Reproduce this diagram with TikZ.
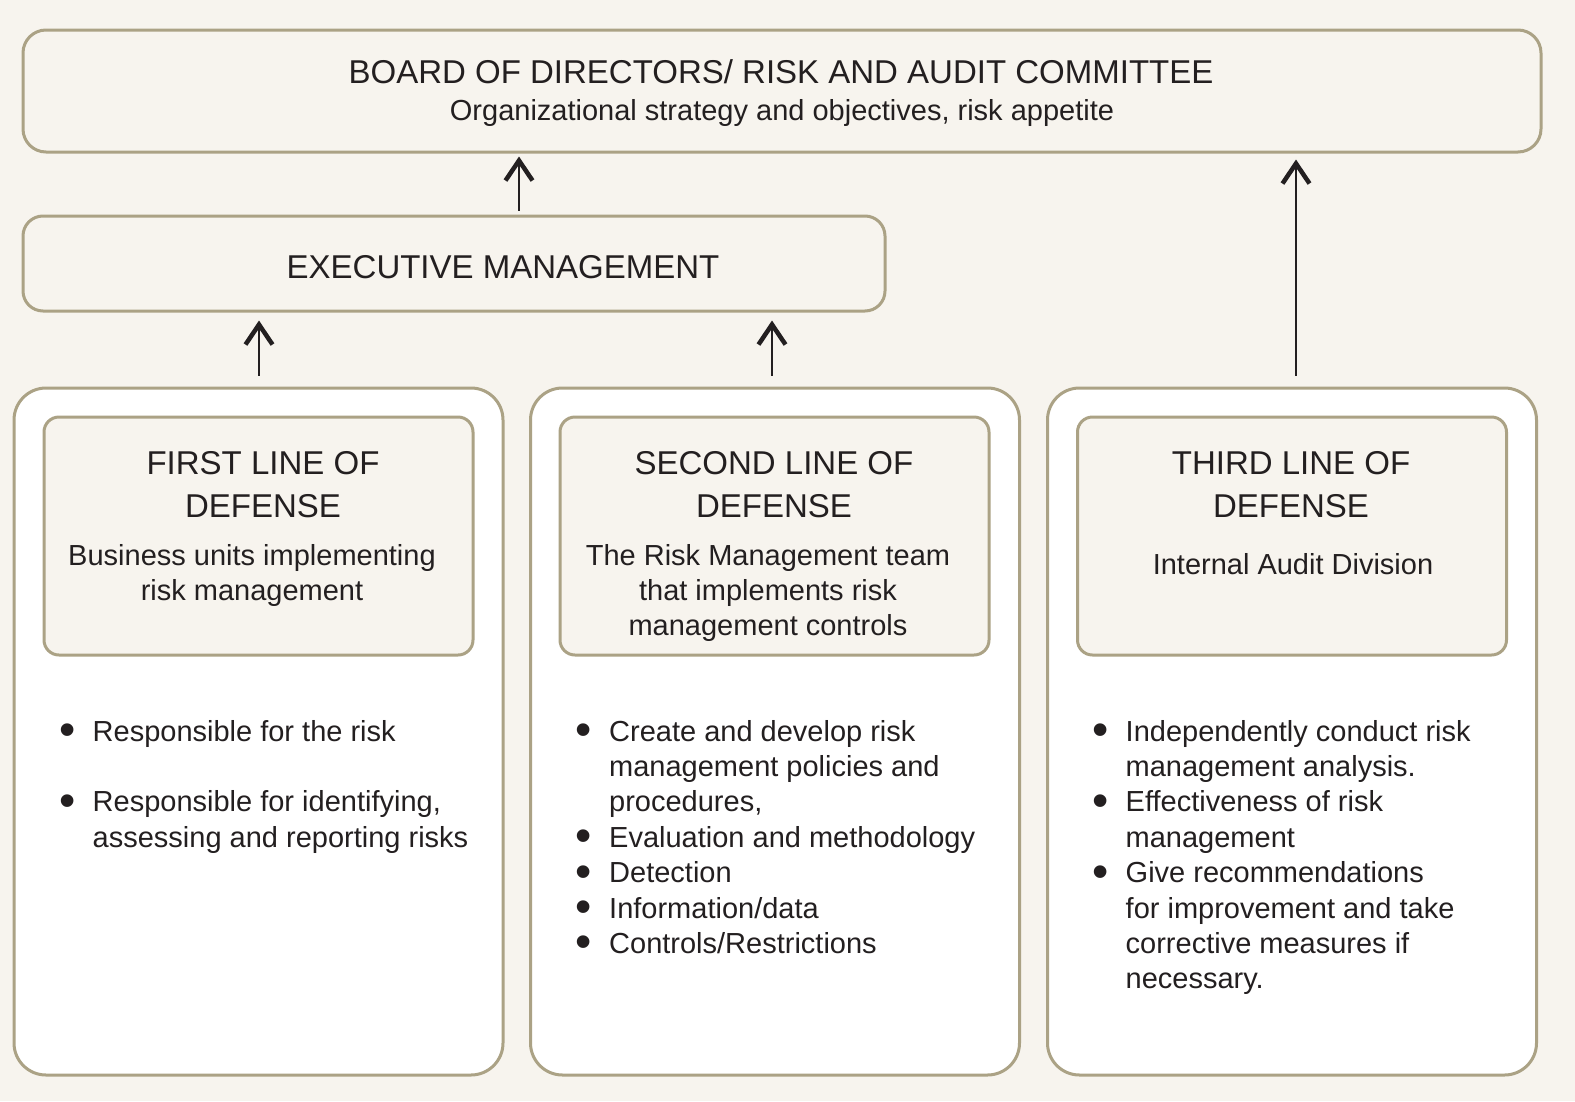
\documentclass[tikz,border=0pt]{standalone}
\usepackage{fontspec}
\setmainfont{Liberation Sans}
\usetikzlibrary{arrows.meta}
\definecolor{bgc}{HTML}{F7F4EE}
\definecolor{bdc}{HTML}{ABA285}
\definecolor{txc}{HTML}{231F20}
\newcommand{\hfont}{\fontsize{33}{43.5}\selectfont}
\newcommand{\bfontx}{\fontsize{29}{35.4}\selectfont}
\newcommand{\stk}[1]{\begin{tabular}[t]{@{}c@{}}#1\end{tabular}}
\newcommand{\blt}{\makebox[51pt][c]{\smash{\raisebox{-4.5pt}{\scalebox{1.6}{\textbullet}}}}}
\newcommand{\lst}[1]{\begin{tabular}[t]{@{}l@{}l@{}}#1\end{tabular}}
\begin{document}
\begin{tikzpicture}[x=1pt,y=-1pt,
  box/.style={draw=bdc, line width=3pt, fill=bgc, inner sep=0pt},
  panel/.style={draw=bdc, line width=3pt, fill=white, inner sep=0pt, rounded corners=32pt, minimum width=489pt, minimum height=687pt},
  inbox/.style={box, rounded corners=15pt, minimum width=429pt, minimum height=238pt},
  txt/.style={inner sep=0pt, text=txc},
  htxt/.style={txt, font=\hfont, anchor=base},
  btxt/.style={txt, font=\bfontx, anchor=base},
  ltxt/.style={txt, font=\bfontx, anchor=base west},
  arr/.style={draw=txc, line width=2.3pt, -{Straight Barb[length=20pt,width=27pt,line width=4.5pt 0]}}
]
\fill[bgc] (0,0) rectangle (1575,1101);
\useasboundingbox (0,0) rectangle (1575,1101);

% top boxes
\node[box, rounded corners=23pt, minimum width=1518pt, minimum height=122pt] (board) at (782,91) {};
\node[htxt] (boardt) at (781,83) {BOARD OF DIRECTORS/ RISK AND AUDIT COMMITTEE};
\node[btxt] (boards) at (782,120) {Organizational strategy and objectives, risk appetite};

\node[box, rounded corners=20pt, minimum width=862pt, minimum height=95pt] (exec) at (454,263.5) {};
\node[htxt] (exect) at (503,278) {EXECUTIVE MANAGEMENT};

% panels
\node[panel] (p1) at (258.5,731.5) {};
\node[panel] (p2) at (775,731.5) {};
\node[panel] (p3) at (1292,731.5) {};

\node[inbox] (i1) at (258.5,536) {};
\node[inbox] (i2) at (774.5,536) {};
\node[inbox] (i3) at (1292,536) {};

\node[htxt] (h1) at (263,474) {\stk{FIRST LINE OF\\DEFENSE}};
\node[htxt] (h2) at (774,474) {\stk{SECOND LINE OF\\DEFENSE}};
\node[htxt] (h3) at (1291,474) {\stk{THIRD LINE OF\\DEFENSE}};

\node[btxt] (b1) at (252,565) {\stk{Business units implementing\\risk management}};
\node[btxt] (b2) at (768,565) {\stk{The Risk Management team\\that implements risk\\management controls}};
\node[btxt] (b3) at (1293,574) {Internal Audit Division};

\node[ltxt] (l1) at (41.5,741) {\lst{\blt & Responsible for the risk\\ & \\ \blt & Responsible for identifying,\\ & assessing and reporting risks}};
\node[ltxt] (l2) at (558,741) {\lst{\blt & Create and develop risk\\ & management policies and\\ & procedures,\\ \blt & Evaluation and methodology\\ \blt & Detection\\ \blt & Information/data\\ \blt & Controls/Restrictions}};
\node[ltxt] (l3) at (1074.5,741) {\lst{\blt & Independently conduct risk\\ & management analysis.\\ \blt & Effectiveness of risk\\ & management\\ \blt & Give recommendations\\ & for improvement and take\\ & corrective measures if\\ & necessary.}};

% arrows
\coordinate (ax0) at (519,0);
\coordinate (ax1) at (259,0);
\coordinate (ax2) at (772,0);
\coordinate (ax3) at (1296,0);
\draw[arr, shorten <=4pt, shorten >=3pt] (exec.north -| ax0) -- (board.south -| ax0);
\draw[arr, shorten <=11pt, shorten >=8pt] (p1.north -| ax1) -- (exec.south -| ax1);
\draw[arr, shorten <=11pt, shorten >=8pt] (p2.north -| ax2) -- (exec.south -| ax2);
\draw[arr, shorten <=11pt, shorten >=6pt] (p3.north -| ax3) -- (board.south -| ax3);
\end{tikzpicture}
\end{document}
